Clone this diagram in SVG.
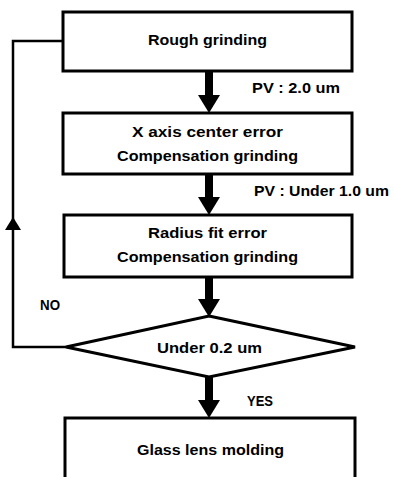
<svg xmlns="http://www.w3.org/2000/svg" width="394" height="477" viewBox="0 0 394 477">
<style>
.box{fill:#fff;stroke:#000;stroke-width:3}
.t{font-family:"Liberation Sans",Arial,sans-serif;font-weight:bold;font-size:15px;fill:#000}
.c{text-anchor:middle}
.line{fill:none;stroke:#000;stroke-width:2.5}
.shaft{fill:none;stroke:#000;stroke-width:8}
</style>
<defs>
<polygon id="head" points="-11,0 11,0 0,18" fill="#000"/>
</defs>
<rect width="394" height="477" fill="#fff"/>
<g id="connectors">
<line class="shaft" x1="209" y1="71" x2="209" y2="96"/>
<use href="#head" x="209" y="95"/>
<line class="shaft" x1="209" y1="174" x2="209" y2="198"/>
<use href="#head" x="209" y="197"/>
<line class="shaft" x1="209" y1="277" x2="209" y2="300"/>
<use href="#head" x="209" y="299"/>
<line class="shaft" x1="209" y1="377" x2="209" y2="401"/>
<use href="#head" x="209" y="400"/>
<polyline class="line" points="66,347 13,347 13,41 63,41"/>
<polygon points="13,217 5,230 21,230" fill="#000"/>
<text class="t" x="252" y="93" textLength="88" lengthAdjust="spacingAndGlyphs">PV : 2.0 um</text>
<text class="t" x="254" y="196" textLength="135" lengthAdjust="spacingAndGlyphs">PV : Under 1.0 um</text>
<text class="t" x="40" y="310" textLength="20" lengthAdjust="spacingAndGlyphs">NO</text>
<text class="t" x="247" y="406" textLength="26" lengthAdjust="spacingAndGlyphs">YES</text>
</g>
<g id="n1">
<rect class="box" x="63" y="12" width="289" height="59"/>
<text class="t c" x="207.5" y="45" textLength="119" lengthAdjust="spacingAndGlyphs">Rough grinding</text>
</g>
<g id="n2">
<rect class="box" x="63" y="113" width="289" height="61"/>
<text class="t c" x="207.5" y="137" textLength="151" lengthAdjust="spacingAndGlyphs">X axis center error</text>
<text class="t c" x="207.5" y="161" textLength="181" lengthAdjust="spacingAndGlyphs">Compensation grinding</text>
</g>
<g id="n3">
<rect class="box" x="64" y="215" width="288" height="62"/>
<text class="t c" x="207.5" y="238" textLength="119" lengthAdjust="spacingAndGlyphs">Radius fit error</text>
<text class="t c" x="207.5" y="262" textLength="181" lengthAdjust="spacingAndGlyphs">Compensation grinding</text>
</g>
<g id="n4">
<polygon class="box" points="209,316 355,347 209,377 66,347"/>
<text class="t c" x="209.5" y="353" textLength="105" lengthAdjust="spacingAndGlyphs">Under 0.2 um</text>
</g>
<g id="n5">
<rect class="box" x="65" y="418" width="290" height="70"/>
<text class="t c" x="210.5" y="455" textLength="147" lengthAdjust="spacingAndGlyphs">Glass lens molding</text>
</g>
</svg>
